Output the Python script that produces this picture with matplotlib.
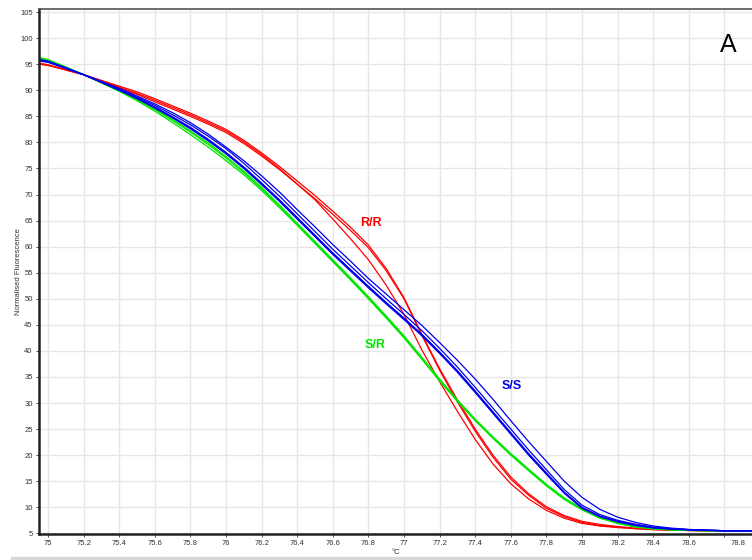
import matplotlib
matplotlib.use("Agg")
import matplotlib.pyplot as plt
import matplotlib.transforms as mtransforms
from matplotlib.patches import Rectangle

plt.rcParams['font.family'] = ['Liberation Sans', 'DejaVu Sans']

# Temperature (°C)
temp = [74.95, 75.0, 75.1, 75.2, 75.3, 75.4, 75.5, 75.6, 75.7, 75.8, 75.9,
        76.0, 76.1, 76.2, 76.3, 76.4, 76.5, 76.6, 76.7, 76.8, 76.9,
        77.0, 77.1, 77.2, 77.3, 77.4, 77.5, 77.6, 77.7, 77.8, 77.9,
        78.0, 78.1, 78.2, 78.3, 78.4, 78.5, 78.6, 78.7, 78.8, 78.9, 78.95]

# R/R replicates
rr_1 = [95.2, 94.9, 94.0, 93.0, 91.9, 90.8, 89.7, 88.4, 87.0, 85.6, 84.1,
        82.5, 80.4, 78.0, 75.4, 72.6, 69.8, 66.8, 63.7, 60.3, 55.8,
        50.2, 43.2, 36.6, 30.6, 25.0, 20.0, 15.8, 12.6, 10.1, 8.4,
        7.3, 6.7, 6.3, 6.0, 5.8, 5.65, 5.55, 5.5, 5.5, 5.5, 5.5]
rr_2 = [95.0, 94.8, 93.9, 93.0, 91.8, 90.4, 89.2, 87.8, 86.4, 85.0, 83.5,
        81.9, 79.8, 77.4, 74.8, 72.0, 69.2, 66.2, 63.1, 59.8, 55.4,
        50.0, 43.0, 36.3, 30.2, 24.6, 19.6, 15.4, 12.3, 9.8, 8.2,
        7.1, 6.5, 6.2, 5.9, 5.75, 5.6, 5.55, 5.5, 5.5, 5.5, 5.5]
rr_3 = [95.1, 94.8, 93.9, 93.0, 91.8, 90.6, 89.4, 88.1, 86.7, 85.3, 83.8,
        82.2, 80.1, 77.7, 75.0, 72.0, 69.0, 65.3, 61.5, 57.5, 52.6,
        47.0, 40.2, 34.1, 28.4, 23.0, 18.3, 14.5, 11.6, 9.4, 7.9,
        6.9, 6.4, 6.1, 5.9, 5.7, 5.6, 5.55, 5.5, 5.5, 5.5, 5.5]

# S/R replicates
sr_1 = [96.3, 95.9, 94.5, 93.0, 91.5, 90.0, 88.3, 86.4, 84.4, 82.2, 79.9,
        77.3, 74.5, 71.4, 68.0, 64.5, 61.0, 57.5, 54.0, 50.4, 46.7,
        42.9, 38.8, 34.6, 30.6, 26.9, 23.5, 20.3, 17.3, 14.4, 11.8,
        9.7, 8.1, 7.0, 6.3, 5.9, 5.7, 5.6, 5.5, 5.5, 5.5, 5.5]
sr_2 = [96.2, 95.8, 94.4, 93.0, 91.4, 89.8, 88.0, 86.0, 83.8, 81.5, 79.1,
        76.5, 73.8, 70.8, 67.5, 64.1, 60.6, 57.1, 53.6, 50.0, 46.3,
        42.5, 38.4, 34.2, 30.3, 26.6, 23.2, 20.0, 17.0, 14.1, 11.5,
        9.5, 7.9, 6.9, 6.2, 5.85, 5.65, 5.55, 5.5, 5.5, 5.5, 5.5]
sr_3 = [96.1, 95.7, 94.4, 93.0, 91.5, 89.9, 88.2, 86.3, 84.2, 82.0, 79.6,
        77.0, 74.2, 71.1, 67.8, 64.3, 60.8, 57.3, 53.8, 50.2, 46.5,
        42.7, 38.6, 34.4, 30.5, 26.8, 23.4, 20.2, 17.2, 14.3, 11.7,
        9.6, 8.0, 6.95, 6.25, 5.9, 5.7, 5.6, 5.5, 5.5, 5.5, 5.5]

# S/S replicates
ss_1 = [95.8, 95.5, 94.3, 93.0, 91.6, 90.1, 88.5, 86.8, 84.9, 82.9, 80.6,
        78.1, 75.3, 72.2, 69.0, 65.6, 62.2, 58.8, 55.6, 52.4, 49.3,
        46.3, 43.2, 39.8, 36.2, 32.3, 28.3, 24.3, 20.3, 16.6, 12.9,
        10.0, 8.3, 7.3, 6.6, 6.1, 5.85, 5.7, 5.6, 5.5, 5.5, 5.5]
ss_2 = [95.7, 95.4, 94.2, 93.0, 91.6, 90.2, 88.7, 87.1, 85.3, 83.4, 81.2,
        78.8, 76.0, 72.9, 69.7, 66.3, 62.9, 59.5, 56.3, 53.1, 50.0,
        47.0, 43.9, 40.5, 36.9, 33.0, 29.0, 25.0, 21.0, 17.2, 13.4,
        10.4, 8.6, 7.5, 6.75, 6.2, 5.9, 5.7, 5.6, 5.5, 5.5, 5.5]
ss_3 = [95.9, 95.6, 94.3, 93.0, 91.5, 90.0, 88.4, 86.6, 84.7, 82.6, 80.3,
        77.8, 75.0, 71.9, 68.7, 65.3, 61.9, 58.5, 55.3, 52.1, 49.0,
        46.0, 42.9, 39.5, 35.9, 32.0, 28.0, 24.0, 20.0, 16.3, 12.7,
        9.8, 8.2, 7.2, 6.5, 6.05, 5.8, 5.65, 5.55, 5.5, 5.5, 5.5]
ss_4 = [95.8, 95.5, 94.3, 93.0, 91.6, 90.1, 88.5, 86.7, 84.8, 82.8, 80.5,
        78.0, 75.2, 72.1, 68.9, 65.5, 62.1, 58.7, 55.5, 52.3, 49.2,
        46.2, 43.1, 39.7, 36.1, 32.2, 28.2, 24.2, 20.2, 16.5, 12.8,
        9.9, 8.25, 7.25, 6.55, 6.1, 5.85, 5.7, 5.6, 5.5, 5.5, 5.5]
ss_5 = [95.6, 95.4, 94.2, 93.0, 91.7, 90.4, 88.9, 87.4, 85.7, 83.8, 81.6,
        79.1, 76.5, 73.6, 70.5, 67.1, 63.8, 60.4, 57.2, 53.9, 50.9,
        47.9, 44.9, 41.6, 38.2, 34.6, 30.7, 26.6, 22.6, 18.8, 15.0,
        11.9, 9.6, 8.1, 7.1, 6.4, 6.0, 5.75, 5.6, 5.5, 5.5, 5.5]

groups = [
    ("R/R", "#ff0000", [rr_1, rr_2, rr_3], (76.815, 64.5)),
    ("S/R", "#00e600", [sr_1, sr_2, sr_3], (76.837, 41.1)),
    ("S/S", "#0000f0", [ss_1, ss_2, ss_3, ss_4, ss_5], (77.607, 33.3)),
]

x_ticks = [75, 75.2, 75.4, 75.6, 75.8, 76, 76.2, 76.4, 76.6, 76.8, 77,
           77.2, 77.4, 77.6, 77.8, 78, 78.2, 78.4, 78.6, 78.8]
y_ticks = list(range(5, 106, 5))

fig = plt.figure(figsize=(7.52, 5.6), dpi=100)
ax = fig.add_axes([39 / 752, 1 - 534 / 560, 1 - 39 / 752, (534 - 9) / 560])

for name, color, reps, (lx, ly) in groups:
    for r in reps:
        ax.plot(temp, r, color=color, lw=0.9, solid_joinstyle='round')
    ax.text(lx, ly, name, color=color, fontsize=9, fontweight='bold',
            ha='center', va='center')

ax.set_xlim(74.9494, 78.955)
ax.set_ylim(4.87, 105.6)
ax.set_xticks(x_ticks)
ax.set_xticklabels(["%g" % t for t in x_ticks])
ax.set_yticks(y_ticks)
ax.set_yticklabels([str(t) for t in y_ticks])
ax.grid(True, color='#e6e6e6', lw=1.0)
ax.set_axisbelow(True)
ax.tick_params(axis='both', labelsize=5.5, colors='#333333', length=2.5,
               width=0.6, pad=2)
for s in ('left', 'bottom'):
    ax.spines[s].set_color('#222222')
    ax.spines[s].set_linewidth(1.8)
ax.spines['top'].set_color('#555555')
ax.spines['top'].set_linewidth(1.2)
ax.spines['right'].set_visible(False)

# last x tick label sits a little to the right in the reference
last_lbl = ax.get_xticklabels()[-1]
last_lbl.set_transform(last_lbl.get_transform() +
                       mtransforms.ScaledTranslation(14 / 100, 0, fig.dpi_scale_trans))

ax.set_ylabel("Normalised Fluorescence", fontsize=5.5, color='#333333', labelpad=-1)
ax.set_xlabel("°C", fontsize=5.5, color='#333333', labelpad=1)

ax.text(78.82, 98.7, "A", fontsize=18, color='black', ha='center', va='center')

fig.patches.append(Rectangle((11 / 752, 0), 1, 3 / 560, transform=fig.transFigure,
                             color='#d8d8d8', zorder=0))

fig.savefig("out.png", dpi=100)
